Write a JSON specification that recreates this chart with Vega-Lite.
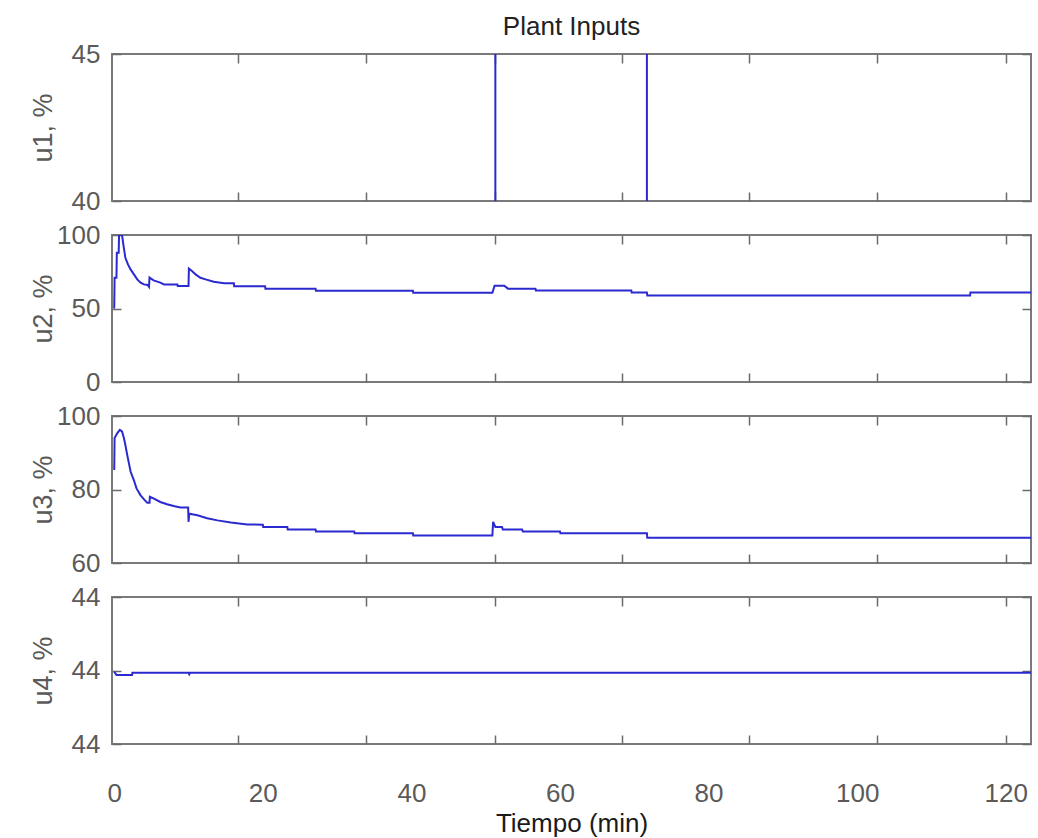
{
  "$schema": "https://vega.github.io/schema/vega-lite/v6.json",
  "padding": {"left": 28, "top": 13, "right": 6, "bottom": 4},
  "background": "white",
  "spacing": 34,
  "bounds": "flush",
  "config": {
    "font": "Liberation Sans",
    "view": {"stroke": "#7a7a7a", "strokeWidth": 2},
    "axis": {
      "grid": false, "domain": false,
      "labelFont": "Liberation Sans", "labelFontSize": 26, "labelColor": "#5a5a5a",
      "tickColor": "#6a6a6a", "tickWidth": 1.5,
      "labelFlush": false, "labelOverlap": false,
      "titleFont": "Liberation Sans", "titleFontWeight": "normal", "titleFontSize": 27, "titleColor": "#5a5a5a"
    }
  },
  "datasets": {
    "u1": [
      {"t": 0, "v": 30}, {"t": 51.3, "v": 30}, {"t": 51.3, "v": 55}, {"t": 71.7, "v": 55}, {"t": 71.7, "v": 30}, {"t": 123.4, "v": 30}
    ],
    "u2": [
      {"t": 0, "v": 50}, {"t": 0.05, "v": 71}, {"t": 0.3, "v": 71}, {"t": 0.35, "v": 88}, {"t": 0.6, "v": 88}, {"t": 0.65, "v": 100},
      {"t": 1.05, "v": 100}, {"t": 1.3, "v": 91}, {"t": 1.5, "v": 84.5}, {"t": 1.85, "v": 80}, {"t": 2.2, "v": 76.6}, {"t": 2.65, "v": 73.2},
      {"t": 3.1, "v": 69.8}, {"t": 3.55, "v": 67.6}, {"t": 4.0, "v": 66.4}, {"t": 4.5, "v": 66}, {"t": 4.68, "v": 64.7}, {"t": 4.75, "v": 71},
      {"t": 5.3, "v": 69.1}, {"t": 6.2, "v": 67.6}, {"t": 6.7, "v": 66.4}, {"t": 8.5, "v": 66.4}, {"t": 8.55, "v": 65.3}, {"t": 10.0, "v": 65.3},
      {"t": 10.05, "v": 77.2}, {"t": 10.5, "v": 75.4}, {"t": 10.95, "v": 73.2}, {"t": 11.6, "v": 70.9}, {"t": 12.3, "v": 69.8}, {"t": 13.4, "v": 68.2},
      {"t": 14.8, "v": 67.1}, {"t": 16.1, "v": 67.1}, {"t": 16.15, "v": 65.2}, {"t": 20.3, "v": 65.2}, {"t": 20.35, "v": 63.5}, {"t": 27.1, "v": 63.5},
      {"t": 27.15, "v": 62.1}, {"t": 40.2, "v": 62.1}, {"t": 40.25, "v": 60.7}, {"t": 50.9, "v": 60.7}, {"t": 51.2, "v": 65.5}, {"t": 52.5, "v": 65.5},
      {"t": 53.0, "v": 63.5}, {"t": 56.7, "v": 63.5}, {"t": 56.75, "v": 62.2}, {"t": 69.6, "v": 62.2}, {"t": 69.65, "v": 60.8}, {"t": 71.7, "v": 60.8},
      {"t": 71.75, "v": 58.9}, {"t": 115.2, "v": 58.9}, {"t": 115.25, "v": 60.8}, {"t": 123.4, "v": 60.8}
    ],
    "u3": [
      {"t": 0, "v": 85.3}, {"t": 0.05, "v": 94}, {"t": 0.4, "v": 95.3}, {"t": 0.75, "v": 96.2}, {"t": 1.05, "v": 95.8}, {"t": 1.3, "v": 94},
      {"t": 1.5, "v": 92.1}, {"t": 1.75, "v": 89.4}, {"t": 1.98, "v": 87.1}, {"t": 2.2, "v": 84.9}, {"t": 2.65, "v": 82.5}, {"t": 3.0, "v": 80.3},
      {"t": 3.55, "v": 78.4}, {"t": 4.1, "v": 77.1}, {"t": 4.45, "v": 76.4}, {"t": 4.75, "v": 76.4}, {"t": 4.8, "v": 78}, {"t": 5.35, "v": 77.5},
      {"t": 6.2, "v": 76.6}, {"t": 7.1, "v": 76}, {"t": 8.0, "v": 75.5}, {"t": 8.9, "v": 75.1}, {"t": 9.95, "v": 75.1}, {"t": 10.0, "v": 71.2},
      {"t": 10.1, "v": 73.4}, {"t": 11.2, "v": 73}, {"t": 12.5, "v": 72.2}, {"t": 13.9, "v": 71.6}, {"t": 15.7, "v": 71}, {"t": 17.9, "v": 70.5},
      {"t": 20.0, "v": 70.4}, {"t": 20.05, "v": 69.8}, {"t": 23.3, "v": 69.8}, {"t": 23.35, "v": 69.1}, {"t": 27.1, "v": 69.1}, {"t": 27.15, "v": 68.6},
      {"t": 32.3, "v": 68.6}, {"t": 32.35, "v": 68.1}, {"t": 40.2, "v": 68.1}, {"t": 40.25, "v": 67.5}, {"t": 50.9, "v": 67.5}, {"t": 51.0, "v": 71.2},
      {"t": 51.3, "v": 69.8}, {"t": 52.2, "v": 69.8}, {"t": 52.3, "v": 69.1}, {"t": 54.9, "v": 69.1}, {"t": 55.0, "v": 68.6}, {"t": 60.0, "v": 68.6},
      {"t": 60.05, "v": 68.1}, {"t": 71.7, "v": 68.1}, {"t": 71.75, "v": 66.9}, {"t": 123.4, "v": 66.9}
    ],
    "u4": [
      {"t": 0, "v": 43.9998}, {"t": 0.3, "v": 43.9994}, {"t": 2.4, "v": 43.9994}, {"t": 2.45, "v": 43.9997}, {"t": 10.0, "v": 43.9997},
      {"t": 10.1, "v": 43.9995}, {"t": 10.2, "v": 43.9997}, {"t": 123.4, "v": 43.9997}
    ]
  },
  "vconcat": [
    {
      "width": 919, "height": 147,
      "data": {"name": "u1"},
      "title": {"text": "Plant Inputs", "fontSize": 26, "fontWeight": "normal", "color": "#222222", "offset": 1, "frame": "group", "anchor": "middle"},
      "layer": [
        {
          "mark": {"type": "line", "color": "#2a2ad0", "strokeWidth": 2, "clip": true},
          "encoding": {
            "x": {"field": "t", "type": "quantitative", "scale": {"domain": [-0.3, 123.4], "nice": false, "zero": false},
                  "axis": {"orient": "bottom", "values": [16.7, 33.9, 51.3, 68.3, 85.4, 102.7, 120], "labels": false, "tickSize": -9, "title": null}},
            "y": {"field": "v", "type": "quantitative", "scale": {"domain": [40, 45], "nice": false, "zero": false},
                  "axis": {"orient": "left", "values": [40, 45], "tickSize": -9, "labelPadding": 21, "format": "d", "title": "u1, %", "titleX": -61, "titleBaseline": "alphabetic"}}
          }
        },
        {
          "mark": {"type": "line", "opacity": 0, "clip": true},
          "encoding": {
            "x": {"field": "t", "type": "quantitative", "axis": {"orient": "top", "values": [16.7, 33.9, 51.3, 68.3, 85.4, 102.7, 120], "labels": false, "tickSize": -9, "title": null}},
            "y": {"field": "v", "type": "quantitative", "axis": {"orient": "right", "values": [40, 45], "labels": false, "tickSize": -9, "title": null}}
          }
        }
      ],
      "resolve": {"axis": {"x": "independent", "y": "independent"}}
    },
    {
      "width": 919, "height": 147,
      "data": {"name": "u2"},
      "layer": [
        {
          "mark": {"type": "line", "color": "#2a2ad0", "strokeWidth": 2, "clip": true},
          "encoding": {
            "x": {"field": "t", "type": "quantitative", "scale": {"domain": [-0.3, 123.4], "nice": false, "zero": false},
                  "axis": {"orient": "bottom", "values": [16.7, 33.9, 51.3, 68.3, 85.4, 102.7, 120], "labels": false, "tickSize": -9, "title": null}},
            "y": {"field": "v", "type": "quantitative", "scale": {"domain": [0, 100], "nice": false, "zero": false},
                  "axis": {"orient": "left", "values": [0, 50, 100], "tickSize": -9, "labelPadding": 21, "format": "d", "title": "u2, %", "titleX": -61, "titleBaseline": "alphabetic"}}
          }
        },
        {
          "mark": {"type": "line", "opacity": 0, "clip": true},
          "encoding": {
            "x": {"field": "t", "type": "quantitative", "axis": {"orient": "top", "values": [16.7, 33.9, 51.3, 68.3, 85.4, 102.7, 120], "labels": false, "tickSize": -9, "title": null}},
            "y": {"field": "v", "type": "quantitative", "axis": {"orient": "right", "values": [0, 50, 100], "labels": false, "tickSize": -9, "title": null}}
          }
        }
      ],
      "resolve": {"axis": {"x": "independent", "y": "independent"}}
    },
    {
      "width": 919, "height": 147,
      "data": {"name": "u3"},
      "layer": [
        {
          "mark": {"type": "line", "color": "#2a2ad0", "strokeWidth": 2, "clip": true},
          "encoding": {
            "x": {"field": "t", "type": "quantitative", "scale": {"domain": [-0.3, 123.4], "nice": false, "zero": false},
                  "axis": {"orient": "bottom", "values": [16.7, 33.9, 51.3, 68.3, 85.4, 102.7, 120], "labels": false, "tickSize": -9, "title": null}},
            "y": {"field": "v", "type": "quantitative", "scale": {"domain": [60, 100], "nice": false, "zero": false},
                  "axis": {"orient": "left", "values": [60, 80, 100], "tickSize": -9, "labelPadding": 21, "format": "d", "title": "u3, %", "titleX": -61, "titleBaseline": "alphabetic"}}
          }
        },
        {
          "mark": {"type": "line", "opacity": 0, "clip": true},
          "encoding": {
            "x": {"field": "t", "type": "quantitative", "axis": {"orient": "top", "values": [16.7, 33.9, 51.3, 68.3, 85.4, 102.7, 120], "labels": false, "tickSize": -9, "title": null}},
            "y": {"field": "v", "type": "quantitative", "axis": {"orient": "right", "values": [60, 80, 100], "labels": false, "tickSize": -9, "title": null}}
          }
        }
      ],
      "resolve": {"axis": {"x": "independent", "y": "independent"}}
    },
    {
      "width": 919, "height": 147,
      "data": {"name": "u4"},
      "layer": [
        {
          "mark": {"type": "line", "color": "#2a2ad0", "strokeWidth": 2, "clip": true},
          "encoding": {
            "x": {"field": "t", "type": "quantitative", "scale": {"domain": [-0.3, 123.4], "nice": false, "zero": false},
                  "axis": {"orient": "bottom", "values": [16.7, 33.9, 51.3, 68.3, 85.4, 102.7, 120], "labels": false, "tickSize": -9, "title": null}},
            "y": {"field": "v", "type": "quantitative", "scale": {"domain": [43.99, 44.01], "nice": false, "zero": false},
                  "axis": {"orient": "left", "values": [43.99, 44, 44.01], "tickSize": -9, "labelPadding": 21, "format": ".0f", "title": "u4, %", "titleX": -61, "titleBaseline": "alphabetic"}}
          }
        },
        {
          "mark": {"type": "line", "opacity": 0, "clip": true},
          "encoding": {
            "x": {"field": "t", "type": "quantitative", "axis": {"orient": "top", "values": [16.7, 33.9, 51.3, 68.3, 85.4, 102.7, 120], "labels": false, "tickSize": -9, "title": null}},
            "y": {"field": "v", "type": "quantitative", "axis": {"orient": "right", "values": [43.99, 44, 44.01], "labels": false, "tickSize": -9, "title": null}}
          }
        },
        {
          "mark": {"type": "line", "opacity": 0, "clip": true},
          "encoding": {
            "x": {"field": "t", "type": "quantitative", "axis": {"orient": "bottom", "values": [0, 20, 40, 60, 80, 100, 120], "ticks": false, "labelPadding": 36, "title": "Tiempo (min)", "titleFontSize": 26, "titleColor": "#1a1a1a", "titlePadding": 4}},
            "y": {"field": "v", "type": "quantitative", "axis": null}
          }
        }
      ],
      "resolve": {"axis": {"x": "independent", "y": "independent"}}
    }
  ]
}
